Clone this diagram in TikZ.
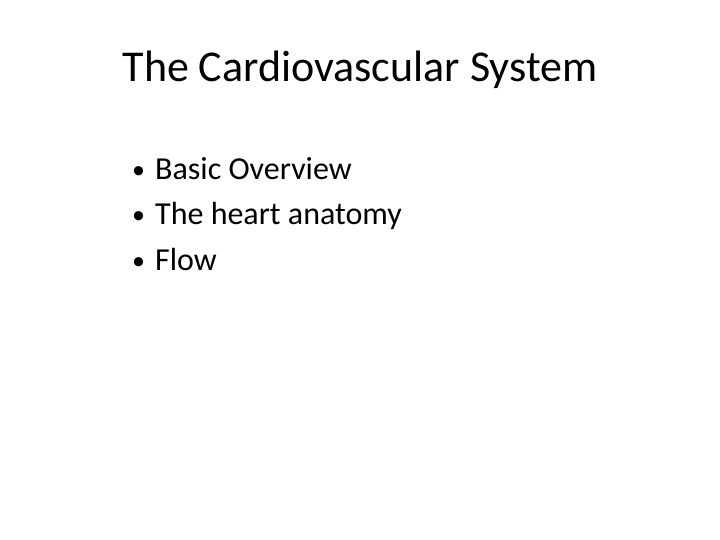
\documentclass[tikz,border=0pt]{standalone}
\usepackage{fontspec}
\setmainfont{Carlito}
\begin{document}
\begin{tikzpicture}[x=1pt,y=-1pt,
  titletext/.style={anchor=base,font=\fontsize{44}{48}\selectfont,inner sep=0},
  bullettext/.style={anchor=base west,font=\fontsize{32}{36}\selectfont,inner sep=0},
  bulletmark/.style={anchor=base west,font=\fontsize{26}{30}\selectfont,inner sep=0}]
\useasboundingbox[fill=white] (0,0) rectangle (720,540);
\node[titletext] (title) at (360,82) {The Cardiovascular System};
\node[bulletmark] (m1) at (132,179) {•};
\node[bullettext] (b1) at (155,180) {Basic Overview};
\node[bulletmark] (m2) at (132,224) {•};
\node[bullettext] (b2) at (155,225) {The heart anatomy};
\node[bulletmark] (m3) at (132,269) {•};
\node[bullettext] (b3) at (155,270) {Flow};
\end{tikzpicture}
\end{document}
